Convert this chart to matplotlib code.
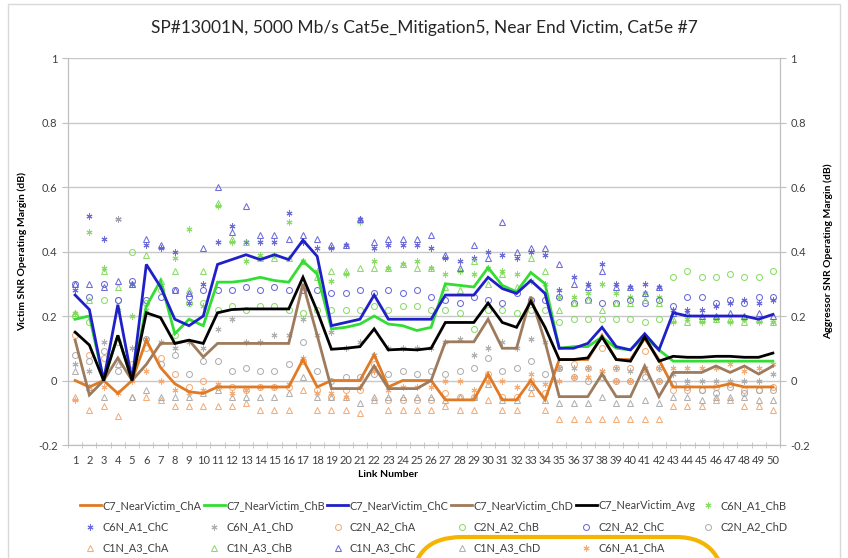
import numpy as np
import matplotlib.pyplot as plt
from matplotlib.patches import FancyBboxPatch, Rectangle

plt.rcParams['font.family'] = ['Lato', 'DejaVu Sans']

links = list(range(1, 51))

# victim lines (left axis)
c7_cha = [0.0, -0.02, 0.0, -0.04, 0.0, 0.125, 0.04, -0.01, -0.035, -0.04,
          -0.02, -0.02, -0.02, -0.02, -0.02, -0.02, 0.065, -0.02, 0.0, 0.0,
          0.0, 0.08, -0.02, 0.0, 0.0, 0.0, -0.06, -0.06, -0.06, 0.02,
          -0.06, -0.06, 0.0, -0.06, 0.065, 0.065, 0.065, 0.14, 0.065, 0.065,
          0.13, 0.065, -0.02, -0.02, -0.02, -0.02, -0.01, -0.02, -0.02, -0.02]
c7_chb = [0.19, 0.20, 0.0, 0.14, 0.0, 0.23, 0.31, 0.145, 0.19, 0.17,
          0.305, 0.305, 0.31, 0.32, 0.31, 0.305, 0.37, 0.33, 0.16, 0.165,
          0.175, 0.20, 0.175, 0.17, 0.155, 0.165, 0.30, 0.295, 0.29, 0.35,
          0.295, 0.275, 0.335, 0.30, 0.10, 0.105, 0.105, 0.135, 0.10, 0.095,
          0.135, 0.095, 0.06, 0.06, 0.06, 0.06, 0.06, 0.06, 0.06, 0.06]
c7_chc = [0.265, 0.22, 0.0, 0.235, 0.0, 0.36, 0.29, 0.19, 0.17, 0.20,
          0.36, 0.375, 0.39, 0.375, 0.39, 0.375, 0.435, 0.385, 0.17, 0.18,
          0.19, 0.265, 0.19, 0.19, 0.19, 0.19, 0.265, 0.265, 0.265, 0.32,
          0.285, 0.27, 0.31, 0.27, 0.10, 0.10, 0.115, 0.165, 0.105, 0.095,
          0.145, 0.095, 0.21, 0.20, 0.20, 0.20, 0.20, 0.20, 0.19, 0.205]
c7_chd = [0.125, -0.045, 0.0, 0.07, 0.0, 0.05, 0.115, 0.115, 0.125, 0.073,
          0.115, 0.115, 0.115, 0.115, 0.115, 0.115, 0.30, 0.14, -0.025, -0.025,
          -0.025, 0.045, -0.025, -0.025, -0.025, 0.0, 0.12, 0.12, 0.12, 0.19,
          0.10, 0.10, 0.26, 0.12, -0.05, -0.05, -0.05, 0.02, -0.05, -0.05,
          0.045, -0.05, 0.025, 0.025, 0.025, 0.045, 0.025, 0.045, 0.02, 0.045]
c7_avg = [0.15, 0.11, 0.0, 0.14, 0.0, 0.21, 0.195, 0.115, 0.125, 0.115,
          0.21, 0.22, 0.222, 0.222, 0.222, 0.222, 0.32, 0.215, 0.097, 0.10,
          0.105, 0.16, 0.095, 0.097, 0.095, 0.10, 0.18, 0.18, 0.18, 0.24,
          0.18, 0.165, 0.245, 0.165, 0.065, 0.065, 0.07, 0.135, 0.065, 0.06,
          0.135, 0.06, 0.075, 0.072, 0.072, 0.075, 0.075, 0.072, 0.072, 0.085]

# aggressor points (right axis)
c6n_a1_cha = [-0.06, -0.02, -0.02, -0.04, 0.0, 0.03, 0.0, -0.03, -0.04, -0.03,
              -0.01, -0.04, -0.03, -0.02, -0.02, -0.01, 0.07, -0.04, -0.04, -0.05,
              -0.02, 0.03, -0.03, -0.02, -0.02, -0.02, 0.0, 0.0, -0.03, 0.0,
              0.0, -0.02, 0.02, -0.01, 0.0, 0.01, 0.01, 0.03, 0.0, 0.0,
              0.03, 0.0, 0.04, 0.04, 0.04, 0.04, 0.05, 0.03, 0.04, 0.05]
c6n_a1_chb = [0.21, 0.46, 0.35, 0.22, 0.20, 0.22, 0.29, 0.38, 0.47, 0.23,
              0.54, 0.43, 0.37, 0.39, 0.39, 0.49, 0.37, 0.34, 0.31, 0.33,
              0.49, 0.37, 0.35, 0.36, 0.37, 0.35, 0.33, 0.34, 0.33, 0.35,
              0.34, 0.33, 0.31, 0.30, 0.26, 0.26, 0.27, 0.30, 0.27, 0.26,
              0.27, 0.26, 0.18, 0.19, 0.18, 0.19, 0.18, 0.19, 0.18, 0.18]
c6n_a1_chc = [0.28, 0.51, 0.44, 0.50, 0.30, 0.42, 0.41, 0.40, 0.24, 0.30,
              0.43, 0.48, 0.43, 0.43, 0.43, 0.52, 0.43, 0.41, 0.41, 0.42,
              0.50, 0.41, 0.42, 0.42, 0.42, 0.41, 0.38, 0.37, 0.38, 0.40,
              0.39, 0.38, 0.40, 0.39, 0.28, 0.32, 0.30, 0.36, 0.30, 0.29,
              0.30, 0.29, 0.22, 0.22, 0.22, 0.23, 0.24, 0.25, 0.24, 0.25]
c6n_a1_chd = [0.05, 0.03, 0.12, 0.50, 0.10, 0.13, 0.12, 0.10, 0.12, 0.10,
              0.16, 0.19, 0.12, 0.12, 0.14, 0.14, 0.19, 0.14, 0.15, 0.10,
              0.12, 0.08, 0.10, 0.10, 0.10, 0.10, 0.12, 0.13, 0.08, 0.10,
              0.12, 0.10, 0.13, 0.12, 0.04, 0.04, 0.04, 0.03, 0.04, 0.03,
              0.04, 0.04, 0.02, 0.0, 0.0, 0.0, 0.0, 0.0, 0.0, 0.02]
c2n_a2_cha = [0.14, 0.08, 0.07, 0.12, 0.05, 0.10, 0.07, 0.02, -0.02, 0.0,
              -0.02, -0.02, -0.03, -0.02, -0.02, -0.02, 0.06, -0.03, -0.05, -0.03,
              -0.03, 0.05, -0.06, -0.06, -0.06, -0.06, -0.04, -0.05, -0.05, 0.02,
              -0.05, -0.05, 0.0, -0.04, 0.04, 0.05, 0.04, 0.10, 0.04, 0.04,
              0.09, 0.04, -0.03, -0.03, -0.03, -0.02, -0.01, -0.03, -0.03, -0.02]
c2n_a2_chb = [0.20, 0.18, 0.25, 0.25, 0.40, 0.24, 0.28, 0.14, 0.24, 0.24,
              0.22, 0.23, 0.22, 0.23, 0.23, 0.22, 0.21, 0.22, 0.22, 0.22,
              0.22, 0.23, 0.22, 0.23, 0.23, 0.22, 0.22, 0.21, 0.16, 0.22,
              0.22, 0.21, 0.22, 0.22, 0.18, 0.19, 0.19, 0.19, 0.19, 0.19,
              0.18, 0.19, 0.32, 0.34, 0.32, 0.32, 0.33, 0.32, 0.32, 0.34]
c2n_a2_chc = [0.30, 0.26, 0.30, 0.25, 0.31, 0.25, 0.26, 0.28, 0.26, 0.28,
              0.28, 0.28, 0.29, 0.28, 0.29, 0.28, 0.28, 0.28, 0.27, 0.27,
              0.28, 0.27, 0.28, 0.27, 0.28, 0.26, 0.25, 0.24, 0.26, 0.25,
              0.24, 0.27, 0.25, 0.25, 0.26, 0.24, 0.25, 0.24, 0.24, 0.25,
              0.24, 0.25, 0.23, 0.26, 0.26, 0.24, 0.25, 0.24, 0.26, 0.26]
c2n_a2_chd = [0.08, 0.06, 0.09, 0.03, 0.03, 0.13, 0.05, 0.08, 0.02, 0.06,
              0.06, 0.03, 0.04, 0.03, 0.03, 0.05, 0.12, 0.03, 0.0, 0.01,
              0.01, 0.02, 0.02, 0.03, 0.02, 0.03, 0.02, 0.03, 0.04, 0.07,
              0.03, 0.04, 0.06, 0.02, 0.04, 0.01, 0.0, 0.01, 0.0, 0.0,
              0.01, 0.0, -0.01, -0.02, -0.03, -0.04, -0.02, -0.04, -0.03, -0.03]
c1n_a3_cha = [-0.05, -0.09, -0.08, -0.11, -0.05, -0.05, -0.06, -0.08, -0.08, -0.08,
              -0.08, -0.08, -0.07, -0.09, -0.09, -0.09, -0.03, -0.09, -0.09, -0.09,
              -0.10, -0.06, -0.09, -0.09, -0.09, -0.09, -0.08, -0.09, -0.09, -0.06,
              -0.09, -0.09, -0.04, -0.09, -0.12, -0.12, -0.12, -0.12, -0.12, -0.12,
              -0.12, -0.12, -0.08, -0.08, -0.08, -0.06, -0.06, -0.08, -0.08, -0.09]
c1n_a3_chb = [0.21, 0.25, 0.34, 0.29, 0.30, 0.39, 0.31, 0.34, 0.28, 0.34,
              0.55, 0.44, 0.43, 0.38, 0.38, 0.38, 0.37, 0.32, 0.34, 0.34,
              0.35, 0.35, 0.35, 0.36, 0.35, 0.35, 0.29, 0.28, 0.37, 0.30,
              0.33, 0.29, 0.38, 0.34, 0.22, 0.24, 0.25, 0.22, 0.24, 0.24,
              0.25, 0.24, 0.19, 0.18, 0.19, 0.19, 0.19, 0.18, 0.19, 0.18]
c1n_a3_chc = [0.30, 0.30, 0.29, 0.31, 0.30, 0.44, 0.42, 0.28, 0.27, 0.41,
              0.60, 0.46, 0.54, 0.45, 0.45, 0.44, 0.45, 0.44, 0.42, 0.42,
              0.50, 0.43, 0.44, 0.44, 0.44, 0.45, 0.39, 0.35, 0.42, 0.38,
              0.49, 0.40, 0.41, 0.41, 0.36, 0.30, 0.29, 0.34, 0.29, 0.29,
              0.27, 0.29, 0.21, 0.21, 0.20, 0.20, 0.21, 0.20, 0.21, 0.20]
c1n_a3_chd = [0.03, -0.02, -0.05, 0.05, -0.05, -0.03, -0.05, -0.05, -0.05, -0.04,
              -0.03, -0.05, -0.05, -0.05, -0.05, -0.04, 0.01, -0.05, -0.05, -0.05,
              -0.07, -0.05, -0.05, -0.05, -0.05, -0.05, -0.06, -0.05, -0.05, -0.01,
              -0.06, -0.06, -0.02, -0.06, -0.07, -0.07, -0.07, -0.05, -0.07, -0.07,
              -0.06, -0.07, -0.05, -0.05, -0.06, -0.05, -0.05, -0.05, -0.06, -0.06]

ORANGE_L, GREEN_L, BLUE_L, BROWN_L = '#E07A24', '#33DD33', '#2020C8', '#9E7B5C'
ORANGE_M, GREEN_M, BLUE_M, GRAY_M = '#F2A46A', '#7ED957', '#5C5CD6', '#A8A8A8'
STAR = (6, 2, 0)

fig = plt.figure(figsize=(8.48, 5.58), dpi=100)
ax = fig.add_axes([0.0802, 0.2025, 0.8396, 0.6935])
ax2 = ax.twinx()
ax.set_zorder(ax2.get_zorder() + 1)
ax.patch.set_visible(False)

for a in (ax, ax2):
    a.set_xlim(0.5, 50.5)
    a.set_ylim(-0.2, 1.0)
    a.set_yticks(np.arange(-0.2, 1.01, 0.2))
    a.set_yticklabels(['-0.2', '0', '0.2', '0.4', '0.6', '0.8', '1'])
    for s in a.spines.values():
        s.set_color('#BFBFBF')
    a.spines['top'].set_visible(False)
    a.tick_params(axis='y', colors='#BFBFBF', labelcolor='#404040',
                  labelsize=8, length=4)

ax2.grid(axis='y', color='#C8C8C8', lw=1)
ax2.set_axisbelow(True)

ax.set_xticks(links)
ax.set_xticklabels([str(n) for n in links], fontsize=8, color='#404040')
ax.tick_params(axis='x', which='major', length=0, pad=7)
ax.set_xticks(np.arange(0.5, 51, 1), minor=True)
ax.tick_params(axis='x', which='minor', length=4, color='#BFBFBF', direction='inout')

# aggressor markers
scat = [
    (c6n_a1_chb, 'C6N_A1_ChB', STAR, GREEN_M),
    (c6n_a1_chc, 'C6N_A1_ChC', STAR, BLUE_M),
    (c6n_a1_chd, 'C6N_A1_ChD', STAR, GRAY_M),
    (c2n_a2_cha, 'C2N_A2_ChA', 'o', ORANGE_M),
    (c2n_a2_chb, 'C2N_A2_ChB', 'o', GREEN_M),
    (c2n_a2_chc, 'C2N_A2_ChC', 'o', BLUE_M),
    (c2n_a2_chd, 'C2N_A2_ChD', 'o', GRAY_M),
    (c1n_a3_cha, 'C1N_A3_ChA', '^', ORANGE_M),
    (c1n_a3_chb, 'C1N_A3_ChB', '^', GREEN_M),
    (c1n_a3_chc, 'C1N_A3_ChC', '^', BLUE_M),
    (c1n_a3_chd, 'C1N_A3_ChD', '^', GRAY_M),
    (c6n_a1_cha, 'C6N_A1_ChA', STAR, ORANGE_M),
]
handles = {}
for vals, name, mk, col in scat:
    filled = mk == STAR
    h, = ax2.plot(links, vals, ls='none', marker=mk, ms=4.3, mew=0.75,
                  mec=col, mfc=col if filled else 'none', alpha=0.9, label=name)
    handles[name] = h

lines = [
    (c7_cha, 'C7_NearVictim_ChA', ORANGE_L),
    (c7_chb, 'C7_NearVictim_ChB', GREEN_L),
    (c7_chc, 'C7_NearVictim_ChC', BLUE_L),
    (c7_chd, 'C7_NearVictim_ChD', BROWN_L),
    (c7_avg, 'C7_NearVictim_Avg', 'black'),
]
for vals, name, col in lines:
    h, = ax.plot(links, vals, color=col, lw=2, label=name, solid_joinstyle='miter')
    handles[name] = h

fig.suptitle('SP#13001N, 5000 Mb/s Cat5e_Mitigation5, Near End Victim, Cat5e #7',
             x=0.5, y=0.965, fontsize=12.5, color='#262626')
ax.set_xlabel('Link Number', fontsize=7.5, fontweight='bold', labelpad=3, x=0.45)
ax.set_ylabel('Victim SNR Operating Margin (dB)', fontsize=7.5, fontweight='bold',
              labelpad=8)
ax2.set_ylabel('Aggressor SNR Operating Margin (dB)', fontsize=7.5, fontweight='bold',
               labelpad=10)

# legend, row-wise order as in the reference
rows = [
    ['C7_NearVictim_ChA', 'C7_NearVictim_ChB', 'C7_NearVictim_ChC',
     'C7_NearVictim_ChD', 'C7_NearVictim_Avg', 'C6N_A1_ChB'],
    ['C6N_A1_ChC', 'C6N_A1_ChD', 'C2N_A2_ChA', 'C2N_A2_ChB', 'C2N_A2_ChC', 'C2N_A2_ChD'],
    ['C1N_A3_ChA', 'C1N_A3_ChB', 'C1N_A3_ChC', 'C1N_A3_ChD', 'C6N_A1_ChA'],
]
order = []
for c in range(6):
    for r in rows:
        if c < len(r):
            order.append(r[c])
leg = fig.legend([handles[n] for n in order], order, ncol=6, loc='upper left',
                 bbox_to_anchor=(80 / 848, 1 - 500 / 558), frameon=False,
                 fontsize=7.8, handlelength=1.9, handletextpad=0.15,
                 columnspacing=0.25, labelspacing=0.95, borderpad=0,
                 borderaxespad=0)
for t in leg.get_texts():
    t.set_color('#404040')

# chart border and the highlight drawn over the picture
fig.patches.append(Rectangle((8 / 848, -0.1), 832 / 848, 1.1 - 4 / 558,
                             transform=fig.transFigure, fill=False,
                             ec='#D9D9D9', lw=1))
fig.patches.append(FancyBboxPatch((4.12, -0.9), 3.14, 1.11,
                                  boxstyle='round,pad=0,rounding_size=0.5',
                                  transform=fig.dpi_scale_trans, fill=False,
                                  ec='#F5B400', lw=3))

fig.savefig('out.png', dpi=100)
